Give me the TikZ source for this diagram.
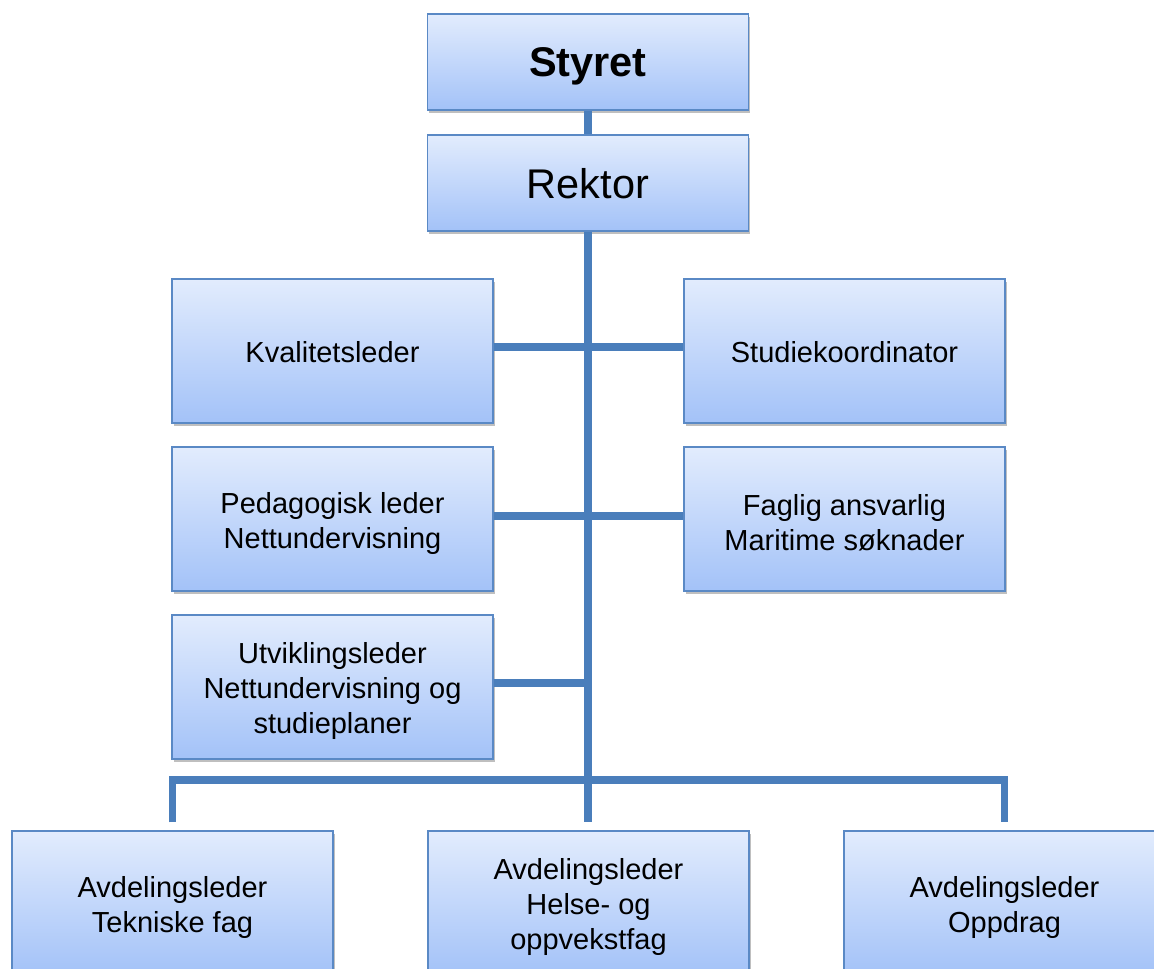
\documentclass[tikz,border=0pt]{standalone}
\usepackage{fontspec}
\setmainfont{Liberation Sans}
\usetikzlibrary{shadows}
\definecolor{boxtop}{HTML}{E2ECFD}
\definecolor{boxbot}{HTML}{A3C2F8}
\definecolor{boxline}{HTML}{5A89C5}
\definecolor{connline}{HTML}{4A7EBB}
\tikzset{
  orgbox/.style={rectangle, draw=boxline, line width=1.5pt, top color=boxtop, bottom color=boxbot,
    minimum width=321pt, minimum height=144pt, inner sep=0pt,
    drop shadow={shadow xshift=1.5pt, shadow yshift=-3pt, opacity=0.25, fill=black}},
  topbox/.style={orgbox, minimum height=96pt, text depth=0pt, text height=30pt,
    font=\fontsize{41.5}{48}\selectfont},
  txt/.style={align=center, inner sep=0pt, font=\fontsize{29}{35}\selectfont, yshift=-4pt},
  txtone/.style={txt, yshift=3pt}
}
\begin{document}
\begin{tikzpicture}[x=1pt, y=-1pt]
\useasboundingbox (0,0) rectangle (1154,969);
\clip (0,0) rectangle (1154,969);
\fill[white] (0,0) rectangle (1154,969);
\coordinate (bar) at (588,780);
\node[topbox, text height=28pt, font=\fontsize{41.5}{48}\selectfont\bfseries] (styret) at (588,62) {Styret};
\node[topbox] (rektor) at (588,183) {Rektor};
\node[orgbox, label={[txtone]center:Kvalitetsleder}] (kval) at (332.5,351) {};
\node[orgbox, label={[txtone]center:Studiekoordinator}] (studie) at (844.5,351) {};
\node[orgbox, label={[txt]center:{Pedagogisk leder\\Nettundervisning}}] (ped) at (332.5,519) {};
\node[orgbox, label={[txt]center:{Faglig ansvarlig\\Maritime søknader}}] (faglig) at (844.5,519) {};
\node[orgbox, label={[txt]center:{Utviklingsleder\\Nettundervisning og\\studieplaner}}] (utv) at (332.5,687) {};
\node[orgbox, label={[txt]center:{Avdelingsleder\\Tekniske fag}}] (tekn) at (172.5,903) {};
\node[orgbox, label={[txt]center:{Avdelingsleder\\Helse- og\\oppvekstfag}}] (helse) at (588.5,903) {};
\node[orgbox, label={[txt]center:{Avdelingsleder\\Oppdrag}}] (oppdrag) at (1004.5,903) {};
\begin{scope}[draw=connline, line width=7.5pt, line join=miter, line cap=butt]
\draw (styret.south) -- (rektor.north);
\draw (rektor.south) -- (rektor.south |- bar) -- ([yshift=8pt]rektor.south |- helse.north);
\draw ([yshift=4pt]kval.east) -- ([yshift=4pt]studie.west);
\draw ([yshift=3pt]ped.east) -- ([yshift=3pt]faglig.west);
\draw ([yshift=4pt]utv.east) -- ([yshift=4pt]utv.east -| rektor.south);
\draw ([yshift=8pt]tekn.north) |- (bar) -| ([yshift=8pt]oppdrag.north);
\end{scope}
\end{tikzpicture}
\end{document}
